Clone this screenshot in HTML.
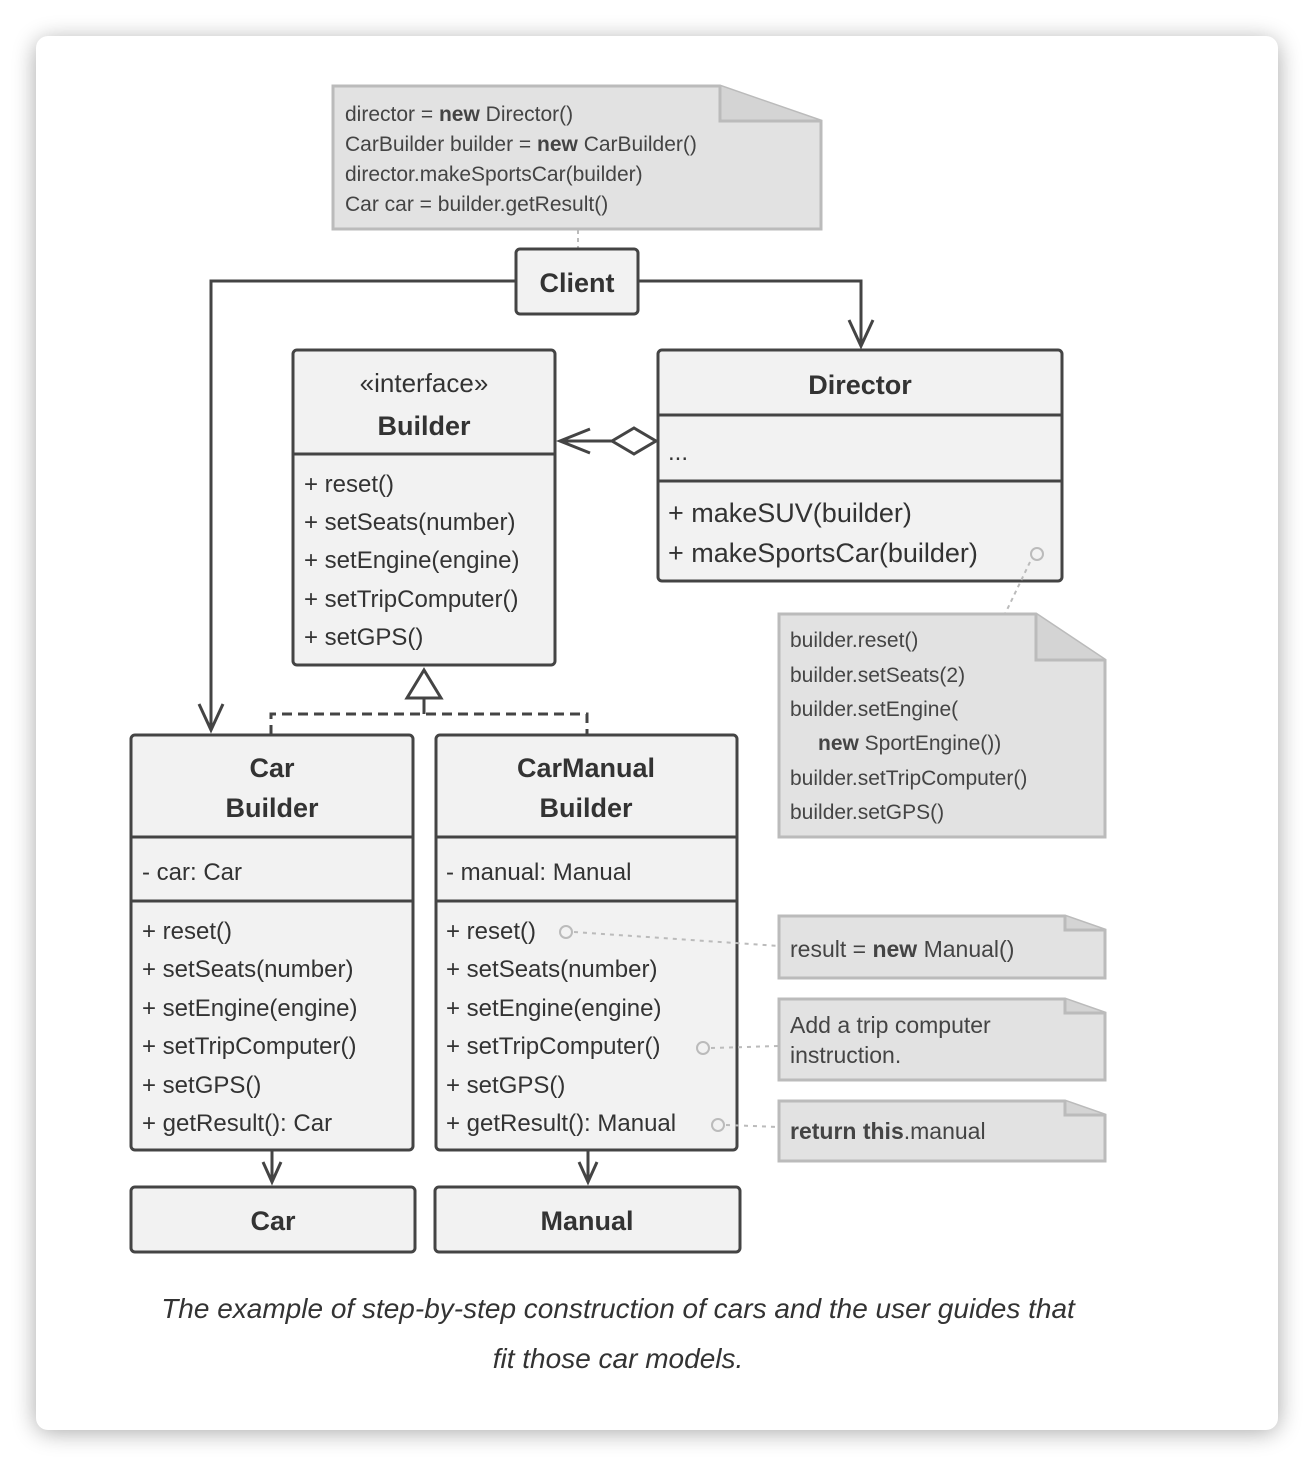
<!DOCTYPE html>
<html><head><style>
body{margin:0;background:#fff;}
svg{display:block;}
text{font-family:"Liberation Sans",sans-serif;fill:#333;}
.b{font-weight:bold;}
.m{font-size:24px;}
.n{font-size:21px;fill:#444;}
.h{font-size:27px;font-weight:bold;}
</style></head><body>
<svg width="1314" height="1466" viewBox="0 0 1314 1466" xmlns="http://www.w3.org/2000/svg">
<defs>
<filter id="sh" x="-10%" y="-10%" width="120%" height="120%"><feGaussianBlur stdDeviation="12"/></filter>
</defs>
<rect x="36" y="40" width="1242" height="1392" rx="14" fill="#000" opacity="0.35" filter="url(#sh)"/>
<rect x="36" y="36" width="1242" height="1394" rx="12" fill="#fff"/>

<!-- note 1 -->
<path d="M333,86 H720 L821,121 V229 H333 Z" fill="#e2e2e2" stroke="#bbb" stroke-width="3"/>
<path d="M720,86 V121 H821" fill="#d4d4d4" stroke="#bbb" stroke-width="3"/>
<text class="n" x="345" y="121">director = <tspan class="b">new</tspan> Director()</text>
<text class="n" x="345" y="151">CarBuilder builder = <tspan class="b">new</tspan> CarBuilder()</text>
<text class="n" x="345" y="181">director.makeSportsCar(builder)</text>
<text class="n" x="345" y="211">Car car = builder.getResult()</text>
<line x1="578" y1="230" x2="578" y2="249" stroke="#bbb" stroke-width="2" stroke-dasharray="4,4"/>

<!-- connectors -->
<g stroke="#444" stroke-width="3" fill="none">
<path d="M516,281 H211 V728"/>
<path d="M199,704 L211,730 L223,704"/>
<path d="M638,281 H861 V346"/>
<path d="M849,320 L861,346 L873,320"/>
<path d="M612,441 H560"/>
<path d="M590,429 L560,441 L590,453"/>
<path d="M612,441 L634,428 L656,441 L634,454 Z" fill="#fff"/>
<path d="M424,670 L441,698 H407 Z" fill="#fff"/>
<path d="M424,698 V714"/>
<path d="M271,735 V714 H587 V735" stroke-dasharray="10,6"/>
<path d="M272,1151 V1182"/><path d="M263,1162 L272,1182 L281,1162"/>
<path d="M588,1151 V1182"/><path d="M579,1162 L588,1182 L597,1162"/>
</g>

<!-- Client -->
<rect x="516" y="249" width="122" height="65" rx="4" fill="#f2f2f2" stroke="#444" stroke-width="3"/>
<text class="h" x="577" y="292" text-anchor="middle">Client</text>

<!-- Builder -->
<rect x="293" y="350" width="262" height="315" rx="4" fill="#f2f2f2" stroke="#444" stroke-width="3"/>
<line x1="293" y1="454" x2="555" y2="454" stroke="#444" stroke-width="3"/>
<text x="424" y="392" text-anchor="middle" style="font-size:26px">«interface»</text>
<text class="h" x="424" y="435" text-anchor="middle">Builder</text>
<text class="m" x="304" y="492">+ reset()</text>
<text class="m" x="304" y="530">+ setSeats(number)</text>
<text class="m" x="304" y="568">+ setEngine(engine)</text>
<text class="m" x="304" y="607">+ setTripComputer()</text>
<text class="m" x="304" y="645">+ setGPS()</text>

<!-- Director -->
<rect x="658" y="350" width="404" height="231" rx="4" fill="#f2f2f2" stroke="#444" stroke-width="3"/>
<line x1="658" y1="415" x2="1062" y2="415" stroke="#444" stroke-width="3"/>
<line x1="658" y1="481" x2="1062" y2="481" stroke="#444" stroke-width="3"/>
<text class="h" x="860" y="394" text-anchor="middle">Director</text>
<text class="m" x="668" y="460">...</text>
<text x="668" y="522" style="font-size:27px">+ makeSUV(builder)</text>
<text x="668" y="562" style="font-size:27px">+ makeSportsCar(builder)</text>
<circle cx="1037" cy="554" r="6" fill="none" stroke="#bbb" stroke-width="2"/>
<line x1="1030" y1="562" x2="1005" y2="614" stroke="#bbb" stroke-width="2" stroke-dasharray="4,4"/>

<!-- note 2 -->
<path d="M779,614 H1036 L1105,660 V837 H779 Z" fill="#e2e2e2" stroke="#bbb" stroke-width="3"/>
<path d="M1036,614 V660 H1105" fill="#d4d4d4" stroke="#bbb" stroke-width="3"/>
<text class="n" x="790" y="647">builder.reset()</text>
<text class="n" x="790" y="682">builder.setSeats(2)</text>
<text class="n" x="790" y="716">builder.setEngine(</text>
<text class="n" x="818" y="750"><tspan class="b">new</tspan> SportEngine())</text>
<text class="n" x="790" y="785">builder.setTripComputer()</text>
<text class="n" x="790" y="819">builder.setGPS()</text>

<!-- CarBuilder -->
<rect x="131" y="735" width="282" height="415" rx="4" fill="#f2f2f2" stroke="#444" stroke-width="3"/>
<line x1="131" y1="837" x2="413" y2="837" stroke="#444" stroke-width="3"/>
<line x1="131" y1="901" x2="413" y2="901" stroke="#444" stroke-width="3"/>
<text class="h" x="272" y="777" text-anchor="middle">Car</text>
<text class="h" x="272" y="817" text-anchor="middle">Builder</text>
<text class="m" x="142" y="880">- car: Car</text>
<text class="m" x="142" y="939">+ reset()</text>
<text class="m" x="142" y="977">+ setSeats(number)</text>
<text class="m" x="142" y="1016">+ setEngine(engine)</text>
<text class="m" x="142" y="1054">+ setTripComputer()</text>
<text class="m" x="142" y="1093">+ setGPS()</text>
<text class="m" x="142" y="1131">+ getResult(): Car</text>

<!-- CarManualBuilder -->
<rect x="436" y="735" width="301" height="415" rx="4" fill="#f2f2f2" stroke="#444" stroke-width="3"/>
<line x1="436" y1="837" x2="737" y2="837" stroke="#444" stroke-width="3"/>
<line x1="436" y1="901" x2="737" y2="901" stroke="#444" stroke-width="3"/>
<text class="h" x="586" y="777" text-anchor="middle">CarManual</text>
<text class="h" x="586" y="817" text-anchor="middle">Builder</text>
<text class="m" x="446" y="880">- manual: Manual</text>
<text class="m" x="446" y="939">+ reset()</text>
<text class="m" x="446" y="977">+ setSeats(number)</text>
<text class="m" x="446" y="1016">+ setEngine(engine)</text>
<text class="m" x="446" y="1054">+ setTripComputer()</text>
<text class="m" x="446" y="1093">+ setGPS()</text>
<text class="m" x="446" y="1131">+ getResult(): Manual</text>

<g stroke="#bbb" stroke-width="2" fill="none">
<circle cx="566" cy="932" r="6"/><line x1="574" y1="932" x2="779" y2="946" stroke-dasharray="4,5"/>
<circle cx="703" cy="1048" r="6"/><line x1="711" y1="1048" x2="779" y2="1046" stroke-dasharray="4,5"/>
<circle cx="718" cy="1125" r="6"/><line x1="726" y1="1125" x2="779" y2="1127" stroke-dasharray="4,5"/>
</g>

<!-- notes 3-5 -->
<path d="M779,916 H1065 L1105,930 V978 H779 Z" fill="#e2e2e2" stroke="#bbb" stroke-width="3"/>
<path d="M1065,916 V930 H1105" fill="#d4d4d4" stroke="#bbb" stroke-width="3"/>
<text class="n" x="790" y="957" style="font-size:23px">result = <tspan class="b">new</tspan> Manual()</text>
<path d="M779,999 H1065 L1105,1013 V1080 H779 Z" fill="#e2e2e2" stroke="#bbb" stroke-width="3"/>
<path d="M1065,999 V1013 H1105" fill="#d4d4d4" stroke="#bbb" stroke-width="3"/>
<text class="n" x="790" y="1033" style="font-size:23px">Add a trip computer</text>
<text class="n" x="790" y="1063" style="font-size:23px">instruction.</text>
<path d="M779,1101 H1065 L1105,1115 V1161 H779 Z" fill="#e2e2e2" stroke="#bbb" stroke-width="3"/>
<path d="M1065,1101 V1115 H1105" fill="#d4d4d4" stroke="#bbb" stroke-width="3"/>
<text class="n" x="790" y="1139" style="font-size:23px"><tspan class="b">return this</tspan>.manual</text>

<!-- Car / Manual -->
<rect x="131" y="1187" width="284" height="65" rx="4" fill="#f2f2f2" stroke="#444" stroke-width="3"/>
<text class="h" x="273" y="1230" text-anchor="middle">Car</text>
<rect x="435" y="1187" width="305" height="65" rx="4" fill="#f2f2f2" stroke="#444" stroke-width="3"/>
<text class="h" x="587" y="1230" text-anchor="middle">Manual</text>

<text x="618" y="1318" text-anchor="middle" style="font-size:28px;font-style:italic">The example of step-by-step construction of cars and the user guides that</text>
<text x="618" y="1368" text-anchor="middle" style="font-size:28px;font-style:italic">fit those car models.</text>
</svg>
</body></html>
